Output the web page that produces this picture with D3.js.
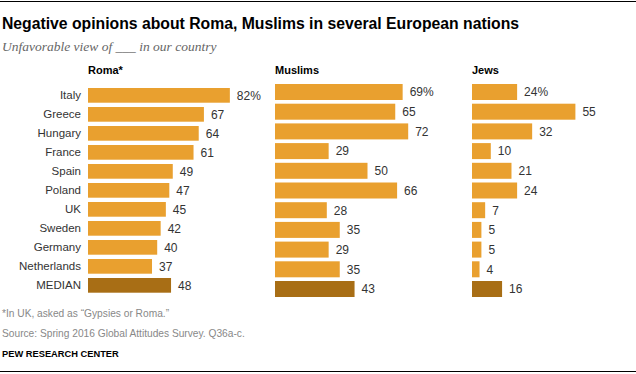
<!DOCTYPE html>
<html>
<head>
<meta charset="utf-8">
<script src="https://d3js.org/d3.v7.min.js"></script>
<style>
body { margin: 0; background: #fff; }
text { font-family: "Liberation Sans", Arial, sans-serif; }
.title { font-weight: bold; font-size: 16px; fill: #000; }
.subtitle { font-family: "Liberation Serif", Georgia, serif; font-style: italic; font-size: 13.5px; fill: #666; }
.head { font-weight: bold; font-size: 11px; fill: #000; }
.country { font-size: 11.5px; fill: #333; }
.val { font-size: 12px; fill: #333; }
.note { font-size: 10.2px; fill: #888; }
.pew { font-size: 9.3px; font-weight: bold; fill: #000; }
</style>
</head>
<body>
<svg width="636" height="374"></svg>
<script>

var countries = ["Italy", "Greece", "Hungary", "France", "Spain", "Poland", "UK", "Sweden", "Germany", "Netherlands", "MEDIAN"];
var roma    = [82, 67, 64, 61, 49, 47, 45, 42, 40, 37, 48];
var muslims = [69, 65, 72, 29, 50, 66, 28, 35, 29, 35, 43];
var jews    = [24, 55, 32, 10, 21, 24, 7, 5, 5, 4, 16];

var svg = d3.select("svg");

var orange = "#e9a02f",
    dark = "#a86e15";

// each panel in the original has its own little quirks in position
var panels = [
  {name: "Roma*",   values: roma,    x0: 88,  px: 1.73, y: [88, 292.7], pad: 0.226},
  {name: "Muslims", values: muslims, x0: 275, px: 1.85, y: [84, 297],   pad: 0.188},
  {name: "Jews",    values: jews,    x0: 472, px: 1.88, y: [84, 297],   pad: 0.188}
];

svg.append("line")
    .attr("x1", 0).attr("x2", 636)
    .attr("y1", 1.5).attr("y2", 1.5)
    .attr("stroke", "#000").attr("stroke-width", 1.2);

svg.append("line")
    .attr("x1", 0).attr("x2", 636)
    .attr("y1", 371.5).attr("y2", 371.5)
    .attr("stroke", "#000").attr("stroke-width", 1.2);

svg.append("text")
    .attr("class", "title")
    .attr("x", 2).attr("y", 29)
    .attr("textLength", 517)
    .attr("lengthAdjust", "spacingAndGlyphs")
    .text("Negative opinions about Roma, Muslims in several European nations");

svg.append("text")
    .attr("class", "subtitle")
    .attr("x", 2).attr("y", 51)
    .text("Unfavorable view of ___ in our country");

panels.forEach(function(p, pi) {
  var x = d3.scaleLinear()
      .domain([0, 100])
      .range([p.x0, p.x0 + 100 * p.px]);

  var y = d3.scaleBand()
      .domain(countries)
      .range(p.y)
      .paddingInner(p.pad)
      .paddingOuter(0);

  svg.append("text")
      .attr("class", "head")
      .attr("x", p.x0).attr("y", 73.5)
      .text(p.name);

  var g = svg.append("g");

  g.selectAll("rect")
    .data(p.values)
    .enter().append("rect")
      .attr("x", x(0))
      .attr("y", function(d, i) { return y(countries[i]); })
      .attr("width", function(d) { return x(d) - x(0); })
      .attr("height", y.bandwidth())
      .attr("fill", function(d, i) { return countries[i] == "MEDIAN" ? dark : orange; });

  g.selectAll("text.val")
    .data(p.values)
    .enter().append("text")
      .attr("class", "val")
      .attr("x", function(d) { return x(d) + 7; })
      .attr("y", function(d, i) { return y(countries[i]) + y.bandwidth() / 2 + 4.3; })
      .text(function(d, i) { return i == 0 ? d + "%" : d; });

  if (pi == 0) {
    g.selectAll("text.country")
      .data(countries)
      .enter().append("text")
        .attr("class", "country")
        .attr("text-anchor", "end")
        .attr("x", 81)
        .attr("y", function(d) { return y(d) + y.bandwidth() / 2 + 4; })
        .text(function(d) { return d; });
  }
});

svg.append("text")
    .attr("class", "note")
    .attr("x", 2).attr("y", 316.5)
    .text("*In UK, asked as \u201cGypsies or Roma.\u201d");

svg.append("text")
    .attr("class", "note")
    .attr("x", 2).attr("y", 336.5)
    .text("Source: Spring 2016 Global Attitudes Survey. Q36a-c.");

svg.append("text")
    .attr("class", "pew")
    .attr("x", 2).attr("y", 356.5)
    .text("PEW RESEARCH CENTER");

</script>
</body>
</html>
